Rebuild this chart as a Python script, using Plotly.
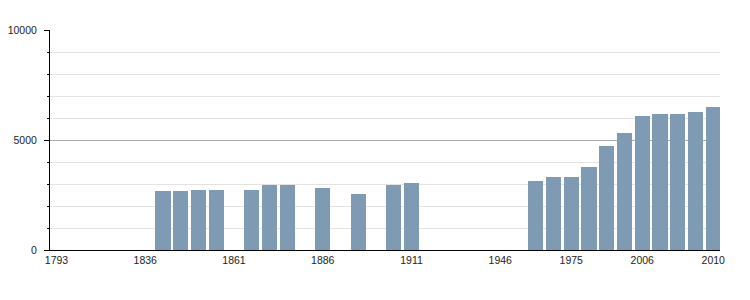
import plotly.graph_objects as go

years = ["1793", "1800", "1806", "1821", "1831", "1836", "1841", "1846", "1851", "1856",
         "1861", "1866", "1872", "1876", "1881", "1886", "1891", "1896", "1901", "1906",
         "1911", "1921", "1926", "1931", "1936", "1946", "1954", "1962", "1968", "1975",
         "1982", "1990", "1999", "2006", "2007", "2008", "2009", "2010"]
population = [None, None, None, None, None, None, 2685, 2685, 2730, 2730,
              None, 2730, 2955, 2955, None, 2820, None, 2545, None, 2955,
              3045, None, None, None, None, None, None, 3135, 3320, 3320,
              3775, 4730, 5320, 6090, 6180, 6180, 6275, 6500]
tick_years = ["1793", "1836", "1861", "1886", "1911", "1946", "1975", "2006", "2010"]

idx = list(range(len(years)))
tickvals = [years.index(y) for y in tick_years]

fig = go.Figure()
fig.add_trace(go.Bar(
    x=idx, y=population, width=0.85,
    marker=dict(color="#7f9ab3", line=dict(width=0)),
    hovertext=years, showlegend=False,
))

fig.update_layout(
    width=750, height=300,
    margin=dict(l=50, r=30, t=30, b=50),
    paper_bgcolor="white", plot_bgcolor="white",
    font=dict(family="Liberation Sans, Arial, sans-serif", size=10, color="#222222"),
    bargap=0,
)
fig.update_xaxes(
    range=[-0.366, 37.38], automargin=False,
    tickmode="array", tickvals=tickvals, ticktext=tick_years,
    ticks="", showgrid=False, zeroline=False,
    showline=True, linecolor="black", linewidth=1,
    tickfont=dict(size=10.5, color="#222222"),
)
fig.update_yaxes(
    range=[0, 10000], tickmode="linear", tick0=0, dtick=5000, automargin=False,
    tickformat="d",
    showgrid=True, gridcolor="#aaaaaa", gridwidth=1,
    zeroline=False,
    showline=True, linecolor="black", linewidth=1,
    ticks="outside", ticklen=5, tickcolor="black", tickwidth=1,
    ticklabelstandoff=5,
    tickfont=dict(size=10.5, color="#222222"),
    minor=dict(dtick=1000, tick0=0, showgrid=True, gridcolor="#e3e3e3", gridwidth=1,
               ticks="outside", ticklen=2, tickcolor="black", tickwidth=1),
)

fig.write_html("out.html")
